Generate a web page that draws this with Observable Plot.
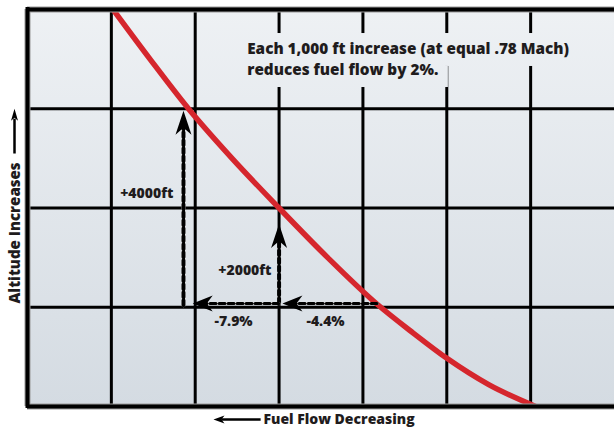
<!DOCTYPE html>
<html><head><meta charset="utf-8">
<script src="https://cdn.jsdelivr.net/npm/d3@7"></script>
<script src="https://cdn.jsdelivr.net/npm/@observablehq/plot@0.6"></script>
<style>html,body{margin:0;padding:0;background:#fff} svg{display:block}</style>
</head><body><div id="chart"></div>
<script>
// Red curve: fuel flow (grid units, left = less fuel) vs altitude (grid units)
const curveFuel = [1.02, 1.47, 1.92, 2.45, 3.0, 3.58, 4.17, 4.6, 5.01, 5.5, 6.06];
const curveAlt  = [4.0, 3.49, 3.0, 2.49, 2.0, 1.5, 1.03, 0.74, 0.48, 0.22, 0.0];

// Climb arrows (altitude increase)
const climbFuel   = [1.86, 3.0];
const climbFrom   = [1.02, 1.04];
const climbTo     = [2.98, 1.84];
const climbLabels = ["+4000ft", "+2000ft"];
const climbLabelFuel = [1.74, 2.91];
const climbLabelAlt  = [2.15, 1.37];

// Fuel flow arrows (fuel flow decrease)
const flowAlt    = [1.037, 1.037];
const flowFrom   = [4.17, 3.0];
const flowTo     = [3.04, 1.97];
const flowLabels = ["-4.4%", "-7.9%"];
const flowLabelFuel = [3.554, 2.457];
const flowLabelAlt  = [0.856, 0.856];

// Note
const noteLines = ["Each 1,000 ft increase (at equal .78 Mach)", "reduces fuel flow by 2%."];
const noteFuel = 2.62;
const noteAlt  = [3.60, 3.385];
const noteBandTop = [3.758, 3.426];
const noteBandBottom = [3.426, 3.214];

// Axis titles
const xTitle = "Fuel Flow Decreasing";
const yTitle = "Altitude Increases";

const W = 614, H = 427, mL = 27, mR = 0, mT = 9, mB = 21;
const xDomain = [0, 7], yDomain = [0, 4];
const xs = Plot.scale({x: {domain: xDomain, range: [mL, W - mR]}});

const ink = "#1f1c1d";
const font = "'Open Sans', 'Noto Sans', sans-serif";
const bold = 800;
const noteSize = 15.3;

// measure note line widths for the knock-out bands
const ctx = document.createElement("canvas").getContext("2d");
ctx.font = `${bold} ${noteSize}px 'Open Sans'`;

const curve = curveFuel.map((f, i) => ({fuel: f, alt: curveAlt[i]}));
const climbs = climbFuel.map((f, i) => ({fuel: f, from: climbFrom[i], to: climbTo[i], label: climbLabels[i], lx: climbLabelFuel[i], ly: climbLabelAlt[i]}));
const flows = flowFrom.map((f, i) => ({alt: flowAlt[i], from: f, to: flowTo[i], label: flowLabels[i], lx: flowLabelFuel[i], ly: flowLabelAlt[i]}));
const notes = noteLines.map((t, i) => ({
  text: t, alt: noteAlt[i], top: noteBandTop[i], bottom: noteBandBottom[i],
  x1: noteFuel, x2: xs.invert(xs.apply(noteFuel) + ctx.measureText(t).width)
}));

function stealth(dir, L, Wd, N) {
  return {draw(c) {
    if (dir === "up") {
      c.moveTo(0, 0); c.lineTo(Wd / 2, L); c.lineTo(0, L - N); c.lineTo(-Wd / 2, L); c.closePath();
    } else {
      c.moveTo(0, 0); c.lineTo(L, -Wd / 2); c.lineTo(L - N, 0); c.lineTo(L, Wd / 2); c.closePath();
    }
  }};
}

const defs = () => {
  const d = d3.create("svg:defs");
  const g = d.append("linearGradient").attr("id", "bgGrad").attr("gradientUnits", "userSpaceOnUse")
    .attr("x1", 0).attr("y1", mT).attr("x2", 0).attr("y2", H - mB);
  g.append("stop").attr("offset", "0%").attr("stop-color", "#eef1f4");
  g.append("stop").attr("offset", "100%").attr("stop-color", "#d4dbe2");
  return d.node();
};

const chart = Plot.plot({
  width: W, height: H,
  marginLeft: mL, marginRight: mR, marginTop: mT, marginBottom: mB,
  x: {domain: xDomain, axis: null},
  y: {domain: yDomain, axis: null},
  style: {fontFamily: font, background: "#fff", overflow: "visible"},
  marks: [
    defs,
    Plot.frame({fill: "url(#bgGrad)", stroke: "none"}),
    // grid
    Plot.ruleX(d3.range(1, 7), {stroke: "#000", strokeWidth: 3}),
    Plot.ruleY([1, 2, 3], {stroke: "#000", strokeWidth: 3}),
    // note knock-out bands + note
    Plot.rect(notes, {x1: "x1", x2: "x2", y1: "bottom", y2: "top", insetLeft: -10, insetRight: -10, fill: "url(#bgGrad)"}),
    Plot.text(notes, {x: "x1", y: "alt", text: "text", textAnchor: "start", fontSize: noteSize, fontWeight: bold, fill: ink}),
    // red curve
    Plot.line(curve, {x: "fuel", y: "alt", stroke: "#d5262d", strokeWidth: 5.5, curve: "monotone-x", clip: true}),
    // climb arrows
    Plot.arrow(climbs, {x1: "fuel", x2: "fuel", y1: "from", y2: "to", headLength: 0, insetEnd: 14, stroke: "#fff", strokeWidth: 4}),
    Plot.arrow(climbs, {x1: "fuel", x2: "fuel", y1: "from", y2: "to", headLength: 0, insetEnd: 14, stroke: "#000", strokeWidth: 4, strokeDasharray: "5,3"}),
    Plot.dot(climbs, {x: "fuel", y: "to", symbol: stealth("up", 24, 16, 7), r: 5, fill: "#000", stroke: "none"}),
    // flow arrows
    Plot.arrow(flows, {x1: "from", x2: "to", y1: "alt", y2: "alt", headLength: 0, insetEnd: 12, stroke: "#fff", strokeWidth: 3}),
    Plot.arrow(flows, {x1: "from", x2: "to", y1: "alt", y2: "alt", headLength: 0, insetEnd: 12, stroke: "#000", strokeWidth: 3, strokeDasharray: "6,3"}),
    Plot.dot(flows, {x: "to", y: "alt", symbol: stealth("left", 20, 16, 6), r: 5, fill: "#000", stroke: "none"}),
    // labels
    Plot.text(climbs, {x: "lx", y: "ly", text: "label", textAnchor: "end", fontSize: 14, fontWeight: bold, fill: ink}),
    Plot.text(flows, {x: "lx", y: "ly", text: "label", textAnchor: "middle", fontSize: 14, fontWeight: bold, fill: ink}),
    // borders
    Plot.ruleY([0, 4], {stroke: "#9a9a9a", strokeWidth: 6}),
    Plot.ruleX([0], {stroke: "#9a9a9a", strokeWidth: 6}),
    Plot.ruleY([0, 4], {stroke: "#000", strokeWidth: 4}),
    Plot.ruleX([0], {y1: 4, y2: 0, stroke: "#000", strokeWidth: 4, insetTop: -2, insetBottom: -2}),
    // x title with arrow
    Plot.link([xTitle], {x1: () => 2.78, x2: () => 2.31, y1: () => -0.131, y2: () => -0.131, stroke: "#000", strokeWidth: 2.5}),
    Plot.dot([xTitle], {x: () => 2.218, y: () => -0.131, symbol: stealth("left", 11, 8, 3), r: 3, fill: "#000", stroke: "none"}),
    Plot.text([xTitle], {x: () => 2.814, y: () => -0.131, text: d => d, textAnchor: "start", fontSize: 14, fontWeight: bold, fill: ink}),
    // y title with arrow
    Plot.link([yTitle], {x1: () => -0.155, x2: () => -0.155, y1: () => 2.549, y2: () => 2.9, stroke: "#000", strokeWidth: 2.5}),
    Plot.dot([yTitle], {x: () => -0.155, y: () => 3.0, symbol: stealth("up", 12, 7, 3), r: 3, fill: "#000", stroke: "none"}),
    Plot.text([yTitle], {x: () => -0.143, y: () => 1.748, text: d => d, rotate: -90, textAnchor: "middle", fontSize: 15, fontWeight: bold, fill: ink})
  ]
});
document.getElementById("chart").appendChild(chart);
</script>
</body></html>
